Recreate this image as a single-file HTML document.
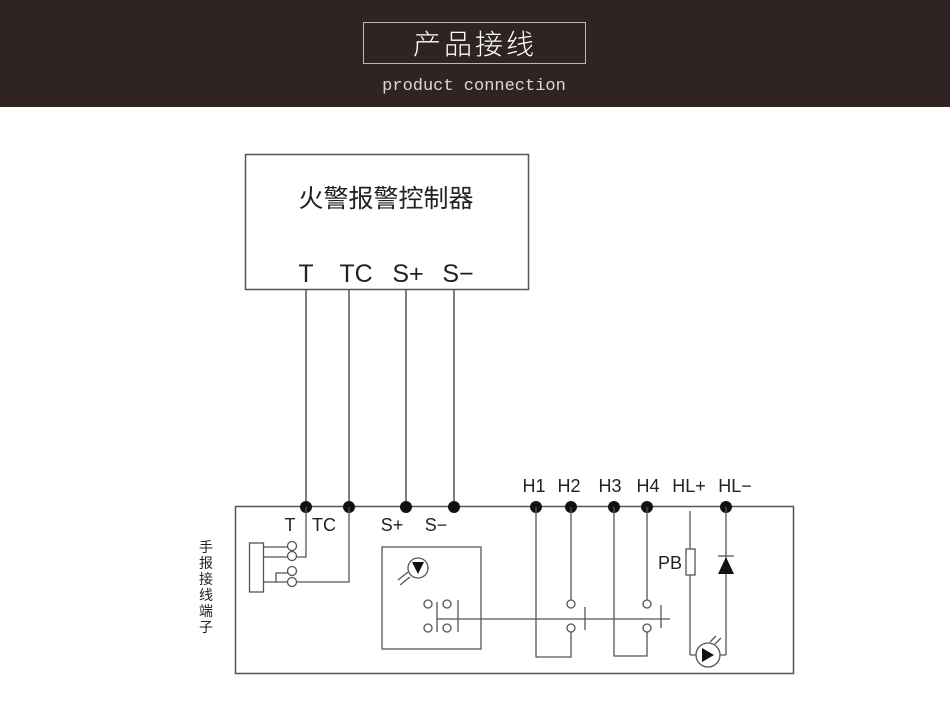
<!DOCTYPE html>
<html><head><meta charset="utf-8"><style>
body{margin:0;background:#fff;}
svg{display:block;font-family:"Liberation Sans","Noto Sans CJK SC",sans-serif;}
</style></head><body>
<svg width="950" height="707" viewBox="0 0 950 707" xmlns="http://www.w3.org/2000/svg">
<rect x="0" y="0" width="950" height="107" fill="#2f2422"/>
<rect x="363.5" y="22.5" width="222" height="41" fill="none" stroke="#bdb6b2" stroke-width="1"/>
<text x="475" y="54" font-size="28" fill="#fff" text-anchor="middle" letter-spacing="3" font-family="Noto Sans CJK SC,sans-serif" font-weight="300">产品接线</text>
<text x="474" y="90" font-size="17" fill="#dcd8d6" text-anchor="middle" font-family="Liberation Mono,monospace">product connection</text>

<g fill="none" stroke="#555" stroke-width="1.5">
<rect x="245.5" y="154.5" width="283" height="135"/>
<rect x="235.5" y="506.5" width="558" height="167"/>
<line x1="306" y1="289" x2="306" y2="506"/>
<line x1="349" y1="289" x2="349" y2="506"/>
<line x1="406" y1="289" x2="406" y2="506"/>
<line x1="454" y1="289" x2="454" y2="506"/>
</g>
<g fill="#111">
<circle cx="306" cy="507" r="6"/><circle cx="349" cy="507" r="6"/><circle cx="406" cy="507" r="6"/><circle cx="454" cy="507" r="6"/>
<circle cx="536" cy="507" r="6"/><circle cx="571" cy="507" r="6"/><circle cx="614" cy="507" r="6"/><circle cx="647" cy="507" r="6"/><circle cx="726" cy="507" r="6"/>
</g>
<text x="386" y="207" font-size="25" fill="#222" text-anchor="middle" font-family="Noto Sans CJK SC,sans-serif">火警报警控制器</text>
<g font-size="25" fill="#222" text-anchor="middle">
<text x="306" y="282">T</text><text x="356" y="282">TC</text><text x="408" y="282">S+</text><text x="458" y="282">S−</text>
</g>
<g font-size="18" fill="#222" text-anchor="middle">
<text x="290" y="531">T</text><text x="324" y="531">TC</text><text x="392" y="531">S+</text><text x="436" y="531">S−</text>
<text x="534" y="492">H1</text><text x="569" y="492">H2</text><text x="610" y="492">H3</text><text x="648" y="492">H4</text><text x="689" y="492">HL+</text><text x="735" y="492">HL−</text>
<text x="670" y="569">PB</text>
</g>
<text font-size="14" fill="#222" font-family="Noto Sans CJK SC,sans-serif" text-anchor="middle">
<tspan x="206" y="552">手</tspan><tspan x="206" y="568">报</tspan><tspan x="206" y="584">接</tspan><tspan x="206" y="600">线</tspan><tspan x="206" y="616">端</tspan><tspan x="206" y="632">子</tspan>
</text>

<g fill="none" stroke="#555" stroke-width="1.3">
<rect x="249.5" y="543" width="14" height="49"/>
<line x1="263" y1="547" x2="288" y2="547"/>
<line x1="263" y1="557" x2="288" y2="557"/>
<polyline points="276,582 276,573 288,573"/>
<line x1="263" y1="582" x2="288" y2="582"/>
<circle cx="292" cy="546" r="4.5"/><circle cx="292" cy="556" r="4.5"/><circle cx="292" cy="571" r="4.5"/><circle cx="292" cy="582" r="4.5"/>
<polyline points="306,507 306,557 297,557"/>
<polyline points="349,507 349,582 297,582"/>
<rect x="382" y="547" width="99" height="102"/>
<circle cx="418" cy="568" r="10"/>
<line x1="398" y1="580" x2="408" y2="572"/><line x1="400" y1="585" x2="410" y2="577"/>
<circle cx="428" cy="604" r="4"/><circle cx="447" cy="604" r="4"/><circle cx="428" cy="628" r="4"/><circle cx="447" cy="628" r="4"/>
<line x1="437" y1="602" x2="437" y2="632"/><line x1="458" y1="600" x2="458" y2="632"/>
<line x1="437" y1="619" x2="670" y2="619"/>
<polyline points="536,507 536,657 571,657 571,632"/>
<line x1="571" y1="507" x2="571" y2="600"/>
<circle cx="571" cy="604" r="4"/><circle cx="571" cy="628" r="4"/>
<line x1="585" y1="607" x2="585" y2="630"/>
<polyline points="614,507 614,656 647,656 647,632"/>
<line x1="647" y1="507" x2="647" y2="600"/>
<circle cx="647" cy="604" r="4"/><circle cx="647" cy="628" r="4"/>
<line x1="661" y1="605" x2="661" y2="628"/>
<line x1="690" y1="511" x2="690" y2="655"/>
<rect x="686" y="549" width="9" height="26" fill="#fff"/>
<line x1="726" y1="507" x2="726" y2="655"/>
<line x1="718" y1="556" x2="734" y2="556"/>
<line x1="690" y1="655" x2="726" y2="655"/>
<circle cx="708" cy="655" r="12" fill="#fff"/>
<line x1="710" y1="642" x2="716" y2="636"/><line x1="715" y1="644" x2="721" y2="638"/>
</g>
<polygon points="718,574 734,574 726,557" fill="#111"/>
<polygon points="412,562 424,562 418,574" fill="#111"/>
<polygon points="702,648 702,662 714,655" fill="#111"/>
</svg>
</body></html>
